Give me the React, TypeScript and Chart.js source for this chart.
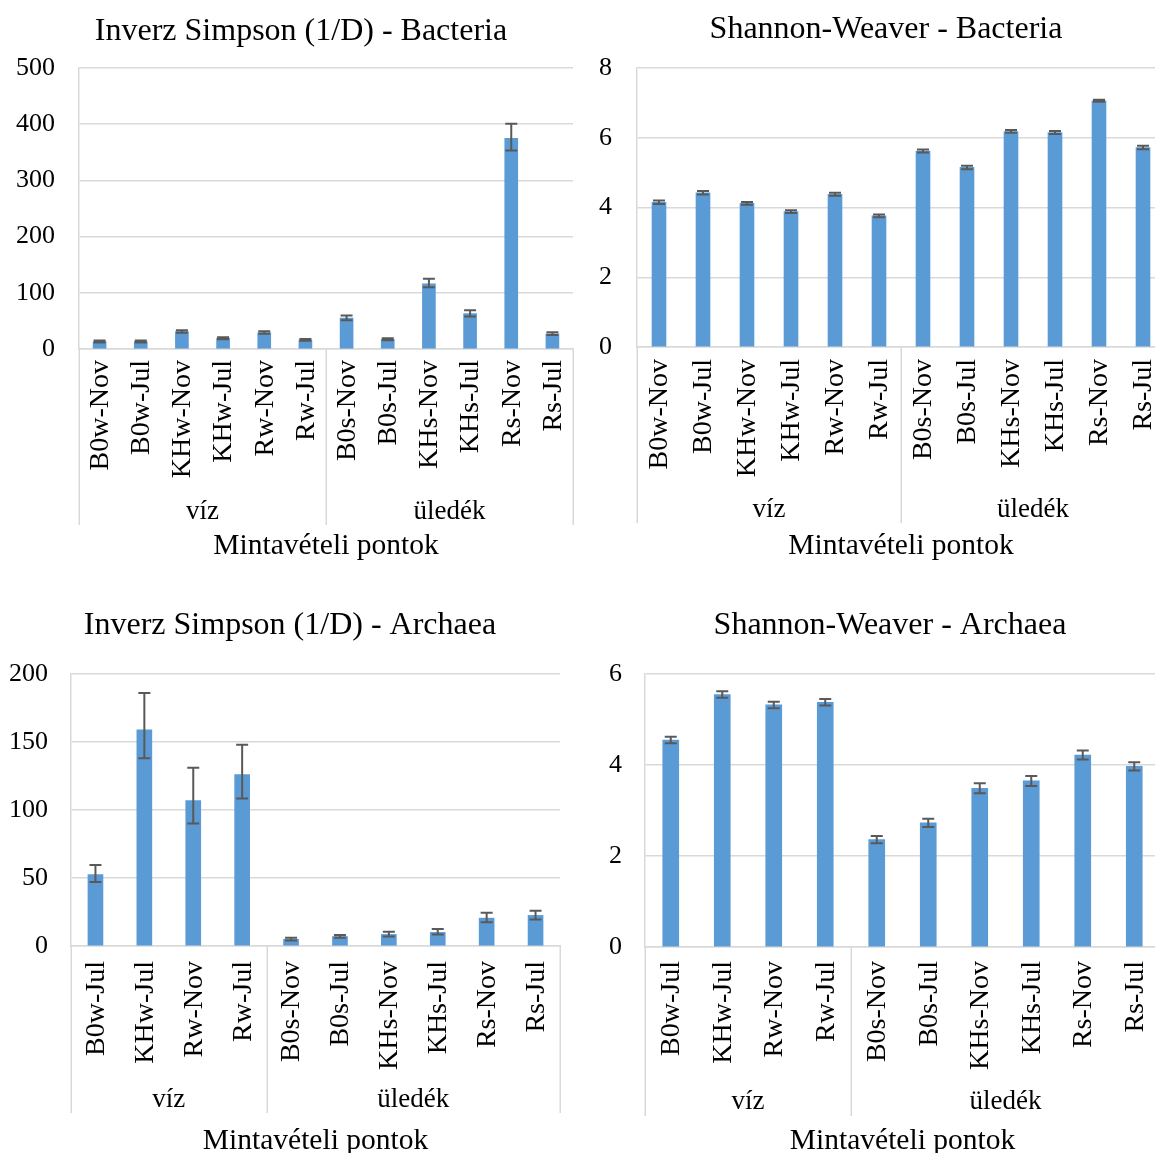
import React, { useEffect, useRef } from "react";
import { Chart, registerables } from "chart.js";

Chart.register(...registerables);

const FONT = "'Liberation Serif', 'Times New Roman', Times, serif";
const BAR_BLUE = "#5B9BD5";
const ERR_GREY = "#595959";
const GRID_GREY = "#D9D9D9";

// Sampling sites (w = water, s = sediment)
const bacteriaSites = [
  "B0w-Nov", "B0w-Jul", "KHw-Nov", "KHw-Jul", "Rw-Nov", "Rw-Jul",
  "B0s-Nov", "B0s-Jul", "KHs-Nov", "KHs-Jul", "Rs-Nov", "Rs-Jul",
];
const archaeaSites = [
  "B0w-Jul", "KHw-Jul", "Rw-Nov", "Rw-Jul",
  "B0s-Nov", "B0s-Jul", "KHs-Nov", "KHs-Jul", "Rs-Nov", "Rs-Jul",
];
const groupNames = ["víz", "üledék"];
const bacteriaGroupSizes = [6, 6];
const archaeaGroupSizes = [4, 6];
const xAxisTitle = "Mintavételi pontok";

// Inverse Simpson (1/D) - Bacteria
const simpsonBacteria = [13, 13, 31, 19, 29, 16, 55, 17, 116, 63, 375, 27];
const simpsonBacteriaErrUp = [2, 2, 2.5, 2, 2.5, 2, 4.5, 2, 9, 6, 26, 3];
const simpsonBacteriaErrDown = [1.5, 1.5, 2, 1.5, 2, 1.5, 4, 1.5, 6, 5, 22, 2];
const simpsonBacteriaTicks = [0, 100, 200, 300, 400, 500];

// Shannon-Weaver - Bacteria
const shannonBacteria = [4.15, 4.42, 4.12, 3.88, 4.38, 3.76, 5.62, 5.15, 6.18, 6.15, 7.06, 5.72];
const shannonBacteriaErr = [0.05, 0.05, 0.04, 0.04, 0.04, 0.04, 0.04, 0.05, 0.04, 0.04, 0.03, 0.05];
const shannonBacteriaTicks = [0, 2, 4, 6, 8];

// Inverse Simpson (1/D) - Archaea
const simpsonArchaea = [52.5, 159, 107, 126, 5, 7, 8.5, 10, 20.5, 22.5];
const simpsonArchaeaErrUp = [7, 27, 24, 22, 1, 1, 2, 2.5, 4, 3.5];
const simpsonArchaeaErrDown = [5.5, 21, 17, 17.5, 1, 1, 1.5, 1.5, 3, 3];
const simpsonArchaeaTicks = [0, 50, 100, 150, 200];

// Shannon-Weaver - Archaea
const shannonArchaea = [4.55, 5.55, 5.32, 5.38, 2.36, 2.73, 3.49, 3.65, 4.22, 3.97];
const shannonArchaeaErr = [0.07, 0.07, 0.07, 0.07, 0.08, 0.09, 0.11, 0.11, 0.1, 0.09];
const shannonArchaeaTicks = [0, 2, 4, 6];

type Panel = {
  title: string;
  labels: string[];
  values: number[];
  errUp: number[];
  errDown: number[];
  groupSizes: number[];
  ticks: number[];
  box: { left: number; top: number; width: number; height: number };
  plot: { left: number; top: number; right: number; bottom: number };
  tickPad: number;
  barWidth: number;
  titleX: number;
  titleBase: number;
  labelGap: number;
  groupBase: number;
  sepBottom: number;
  axisTitleBase: number;
};

const panels: Panel[] = [
  {
    title: "Inverz Simpson (1/D) - Bacteria",
    labels: bacteriaSites,
    values: simpsonBacteria,
    errUp: simpsonBacteriaErrUp,
    errDown: simpsonBacteriaErrDown,
    groupSizes: bacteriaGroupSizes,
    ticks: simpsonBacteriaTicks,
    box: { left: 0, top: 0, width: 580, height: 575 },
    plot: { left: 79, top: 68, right: 573, bottom: 349 },
    tickPad: 24,
    barWidth: 13,
    titleX: 301,
    titleBase: 40,
    labelGap: 11,
    groupBase: 519,
    sepBottom: 525,
    axisTitleBase: 554,
  },
  {
    title: "Shannon-Weaver - Bacteria",
    labels: bacteriaSites,
    values: shannonBacteria,
    errUp: shannonBacteriaErr,
    errDown: shannonBacteriaErr,
    groupSizes: bacteriaGroupSizes,
    ticks: shannonBacteriaTicks,
    box: { left: 580, top: 0, width: 590, height: 575 },
    plot: { left: 637, top: 68, right: 1165, bottom: 347 },
    tickPad: 25,
    barWidth: 14,
    titleX: 886,
    titleBase: 38,
    labelGap: 12,
    groupBase: 517,
    sepBottom: 523,
    axisTitleBase: 554,
  },
  {
    title: "Inverz Simpson (1/D) - Archaea",
    labels: archaeaSites,
    values: simpsonArchaea,
    errUp: simpsonArchaeaErrUp,
    errDown: simpsonArchaeaErrDown,
    groupSizes: archaeaGroupSizes,
    ticks: simpsonArchaeaTicks,
    box: { left: 0, top: 580, width: 580, height: 573 },
    plot: { left: 71, top: 674, right: 560, bottom: 946 },
    tickPad: 23,
    barWidth: 15,
    titleX: 290,
    titleBase: 634,
    labelGap: 15,
    groupBase: 1107,
    sepBottom: 1113,
    axisTitleBase: 1149,
  },
  {
    title: "Shannon-Weaver - Archaea",
    labels: archaeaSites,
    values: shannonArchaea,
    errUp: shannonArchaeaErr,
    errDown: shannonArchaeaErr,
    groupSizes: archaeaGroupSizes,
    ticks: shannonArchaeaTicks,
    box: { left: 580, top: 580, width: 590, height: 573 },
    plot: { left: 645, top: 674, right: 1160, bottom: 947 },
    tickPad: 23,
    barWidth: 16,
    titleX: 890,
    titleBase: 634,
    labelGap: 14,
    groupBase: 1109,
    sepBottom: 1116,
    axisTitleBase: 1149,
  },
];

// Draws error bars, rotated site labels, group dividers and the text around the plot.
function makeDecorations(p: Panel) {
  return {
    id: "panelDecorations",
    afterDatasetsDraw(chart: any) {
      const ctx = chart.ctx as CanvasRenderingContext2D;
      const ys = chart.scales.y;
      const meta = chart.getDatasetMeta(0);
      const cap = 12;
      ctx.save();
      ctx.strokeStyle = ERR_GREY;
      ctx.lineWidth = 2;
      meta.data.forEach((bar: any, i: number) => {
        const v = p.values[i];
        const yTop = ys.getPixelForValue(v + p.errUp[i]);
        const yBot = ys.getPixelForValue(v - p.errDown[i]);
        const x = bar.x;
        ctx.beginPath();
        ctx.moveTo(x, yTop);
        ctx.lineTo(x, yBot);
        ctx.moveTo(x - cap / 2, yTop);
        ctx.lineTo(x + cap / 2, yTop);
        ctx.moveTo(x - cap / 2, yBot);
        ctx.lineTo(x + cap / 2, yBot);
        ctx.stroke();
      });
      ctx.restore();
    },
    afterDraw(chart: any) {
      const ctx = chart.ctx as CanvasRenderingContext2D;
      const xs = chart.scales.x;
      const area = chart.chartArea;
      const ox = p.box.left;
      const oy = p.box.top;

      ctx.save();
      ctx.fillStyle = "#000";

      // site labels, reading bottom-to-top
      ctx.font = `28px ${FONT}`;
      ctx.textAlign = "right";
      ctx.textBaseline = "middle";
      p.labels.forEach((lab, i) => {
        const x = xs.getPixelForValue(i);
        ctx.save();
        ctx.translate(x, area.bottom + p.labelGap);
        ctx.rotate(-Math.PI / 2);
        ctx.fillText(lab, 0, 1);
        ctx.restore();
      });

      // group dividers and group names
      ctx.strokeStyle = GRID_GREY;
      ctx.lineWidth = 1.5;
      let start = 0;
      const bounds = [0];
      p.groupSizes.forEach((n) => {
        start += n;
        bounds.push(start);
      });
      bounds.forEach((b) => {
        const x = Math.round(xs.getPixelForValue(b - 0.5)) + 0.25;
        ctx.beginPath();
        ctx.moveTo(x, area.bottom);
        ctx.lineTo(x, p.sepBottom - oy);
        ctx.stroke();
      });
      ctx.font = `27px ${FONT}`;
      ctx.textAlign = "center";
      ctx.textBaseline = "alphabetic";
      groupNames.forEach((name, g) => {
        const x0 = xs.getPixelForValue(bounds[g] - 0.5);
        const x1 = xs.getPixelForValue(bounds[g + 1] - 0.5);
        ctx.fillText(name, (x0 + x1) / 2, p.groupBase - oy);
      });

      // axis title
      ctx.font = `29.5px ${FONT}`;
      ctx.fillText(xAxisTitle, (area.left + area.right) / 2, p.axisTitleBase - oy);

      // chart title
      ctx.font = `32px ${FONT}`;
      ctx.fillText(p.title, p.titleX - ox, p.titleBase - oy);
      ctx.restore();
    },
  };
}

function PanelChart({ p }: { p: Panel }) {
  const ref = useRef<HTMLCanvasElement | null>(null);

  useEffect(() => {
    if (!ref.current) return;
    const yWidth = p.plot.left - p.box.left;
    const xHeight = p.box.top + p.box.height - p.plot.bottom;
    const tickMin = p.ticks[0];
    const tickMax = p.ticks[p.ticks.length - 1];
    const step = p.ticks[1] - p.ticks[0];

    const chart = new Chart(ref.current, {
      type: "bar",
      data: {
        labels: p.labels,
        datasets: [
          {
            data: p.values,
            backgroundColor: BAR_BLUE,
            borderWidth: 0,
            barThickness: p.barWidth,
          },
        ],
      },
      options: {
        responsive: false,
        animation: false,
        devicePixelRatio: 1,
        layout: {
          padding: {
            left: 0,
            top: p.plot.top - p.box.top,
            right: p.box.left + p.box.width - p.plot.right,
            bottom: 0,
          },
        },
        plugins: {
          legend: { display: false },
          tooltip: { enabled: false },
          title: { display: false },
        },
        scales: {
          x: {
            type: "category",
            offset: true,
            grid: { display: false, drawTicks: false },
            border: { display: true, color: GRID_GREY, width: 1.5 },
            ticks: { display: false },
            afterFit: (s: any) => {
              s.height = xHeight;
            },
          },
          y: {
            min: tickMin,
            max: tickMax,
            ticks: {
              stepSize: step,
              padding: p.tickPad,
              color: "#000",
              font: { family: FONT, size: 26 },
            },
            grid: { color: GRID_GREY, lineWidth: 1.5, drawTicks: false },
            border: { display: true, color: GRID_GREY, width: 1.5 },
            afterFit: (s: any) => {
              s.width = yWidth;
            },
          },
        },
      },
      plugins: [makeDecorations(p)],
    } as any);

    return () => chart.destroy();
  }, [p]);

  return (
    <canvas
      ref={ref}
      width={p.box.width}
      height={p.box.height}
      style={{
        position: "absolute",
        left: p.box.left,
        top: p.box.top,
        width: p.box.width,
        height: p.box.height,
      }}
    />
  );
}

export default function App() {
  return (
    <div
      style={{
        position: "absolute",
        left: 0,
        top: 0,
        width: 1155,
        height: 1153,
        overflow: "hidden",
        background: "#fff",
      }}
    >
      {panels.map((p, i) => (
        <PanelChart key={i} p={p} />
      ))}
    </div>
  );
}
